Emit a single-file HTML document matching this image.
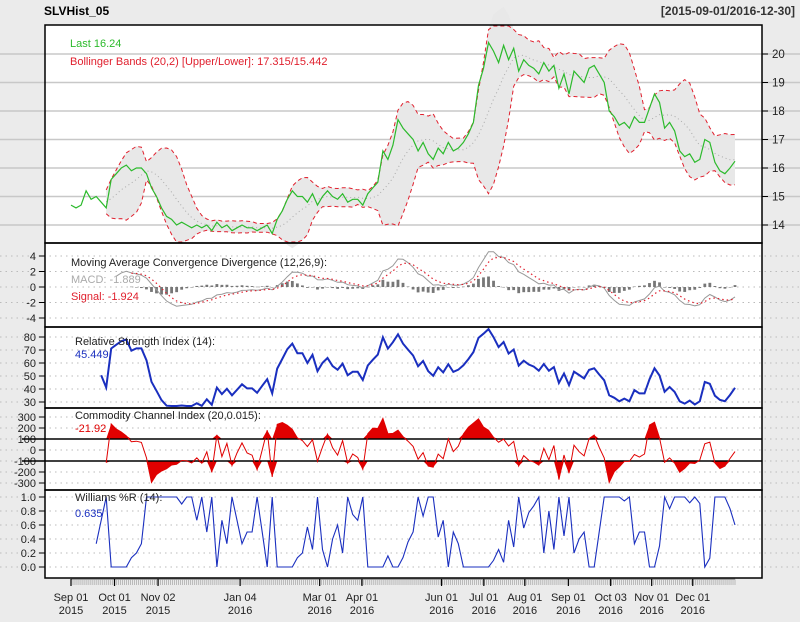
<!DOCTYPE html>
<html><head><meta charset="utf-8"><style>
html,body{margin:0;padding:0;background:#ebebeb;}
svg{display:block;font-family:"Liberation Sans",sans-serif;}
</style></head><body>
<svg id="chart" width="800" height="622" viewBox="0 0 800 622" xmlns="http://www.w3.org/2000/svg">
<rect x="0" y="0" width="800" height="622" fill="#ebebeb"/>
<text x="44" y="15" font-size="12" font-weight="bold">SLVHist_05</text>
<text x="795" y="15" font-size="12" font-weight="bold" fill="#333" text-anchor="end">[2015-09-01/2016-12-30]</text>
<g id="layer"></g>
</svg>
<script>
const closes = [14.7,14.6,14.7,15.2,14.9,15.0,14.8,14.6,15.6,15.8,16.0,16.1,15.9,16.0,16.0,15.8,15.3,15.0,14.6,14.3,14.2,14.0,14.1,14.0,13.9,14.0,13.9,14.0,13.8,14.1,13.9,14.0,13.8,13.9,14.0,13.9,13.9,13.8,13.9,14.0,13.7,14.2,14.5,14.9,15.2,15.0,15.0,14.8,15.1,14.7,15.0,15.2,15.0,14.9,15.1,14.8,14.9,14.9,14.7,15.1,15.3,15.5,16.6,16.3,16.8,17.7,17.4,17.2,17.0,16.6,16.9,16.5,16.3,16.7,16.5,16.9,16.6,16.7,16.9,17.2,17.6,18.9,19.5,20.4,20.1,19.7,20.3,19.8,20.2,19.4,19.8,19.6,19.5,19.3,19.7,19.4,19.6,18.8,19.3,18.6,19.4,19.2,19.0,19.5,19.6,19.3,19.0,18.0,17.8,17.5,17.6,17.4,17.8,17.6,17.6,18.1,18.6,18.3,17.4,17.6,17.3,16.6,16.4,16.5,16.2,16.3,17.0,16.9,16.2,15.9,15.8,16.0,16.24];
const dateLabels = ["Sep 01","Oct 01","Nov 02","Jan 04","Mar 01","Apr 01","Jun 01","Jul 01","Aug 01","Sep 01","Oct 03","Nov 01","Dec 01"];
const yearLabels = ["2015","2015","2015","2016","2016","2016","2016","2016","2016","2016","2016","2016","2016"];
const dateIndex = [0,17.5,35,68,100,117,149,166,182.5,200,217,233.5,250];
const priceTicks = [14,15,16,17,18,19,20];
const macdTicks = [4,2,0,-2,-4];
const rsiTicks = [80,70,60,50,40,30];
const cciTicks = [300,200,100,0,-100,-200,-300];
const wprTicks = [1.0,0.8,0.6,0.4,0.2,0.0];

const NS="http://www.w3.org/2000/svg";
const layer=document.getElementById('layer');
function mk(tag,attrs,parent){const e=document.createElementNS(NS,tag);for(const k in attrs)e.setAttribute(k,attrs[k]);(parent||layer).appendChild(e);return e;}
const n=closes.length;
const X0=71,X1=735,PL=45,PR=762;
const xs=i=>X0+i*(X1-X0)/(n-1);
const lin=(d0,d1,r0,r1)=>v=>r0+(v-d0)*(r1-r0)/(d1-d0);
const yP=lin(14,20,225,54), yM=lin(0,4,287,256), yR=lin(30,80,402,337), yC=lin(0,300,450,417), yW=lin(0,1,567,497);

function sma(a,p){return a.map((v,i)=>i<p-1?null:a.slice(i-p+1,i+1).reduce((s,x)=>s+x,0)/p);}
function sd(a,p){const m=sma(a,p);return a.map((v,i)=>{if(i<p-1)return null;const s=a.slice(i-p+1,i+1);return Math.sqrt(s.reduce((t,x)=>t+(x-m[i])**2,0)/(p-1));});}
function ema(a,p){const k=2/(p+1);const out=[];let e=null;a.forEach((v,i)=>{if(v==null){out.push(null);return;}e=e==null?v:e+k*(v-e);out.push(e);});return out;}
const BP=8;
const mid=sma(closes,BP), dev=sd(closes,BP);
const up=mid.map((m,i)=>m==null?null:m+2*dev[i]), lo=mid.map((m,i)=>m==null?null:m-2*dev[i]);
const ef=ema(closes,5), es=ema(closes,10);
const macd=closes.map((c,i)=>i<9?null:100*(ef[i]/es[i]-1));
const sigRaw=ema(macd,4);
const sig=sigRaw.map((v,i)=>i<12?null:v);
const rsi=[];{let ag=0,al=0;const p=9;for(let i=0;i<n;i++){if(i==0){rsi.push(null);continue;}const d=closes[i]-closes[i-1];const g=Math.max(d,0),l=Math.max(-d,0);
  ag=(ag*(p-1)+g)/p;al=(al*(p-1)+l)/p;rsi.push(i<6?null:100-100/(1+ag/(al||1e-9)));}}
const cm=sma(closes,BP);
const cci=closes.map((c,i)=>{if(i<BP-1)return null;const s=closes.slice(i-BP+1,i+1);const md=s.reduce((t,x)=>t+Math.abs(x-cm[i]),0)/BP;return md?1.35*(c-cm[i])/(0.015*md):0;});
const wpr=closes.map((c,i)=>{if(i<5)return null;const s=closes.slice(i-5,i+1);const h=Math.max(...s),l=Math.min(...s);return h==l?0.5:(h-c)/(h-l);});

function path(arr,yf,clampLo,clampHi){let d="",pen=false;arr.forEach((v,i)=>{if(v==null){pen=false;return;}let y=yf(v);if(clampLo!=null)y=Math.min(Math.max(y,clampLo),clampHi);d+=(pen?"L":"M")+xs(i).toFixed(1)+","+y.toFixed(1);pen=true;});return d;}

const panels=[[25,243],[243,327],[327,408],[408,490],[490,578]];
panels.forEach((p,k)=>{const r=mk('rect',{x:PL,y:p[0],width:PR-PL,height:p[1]-p[0],fill:'#fff'});

});

priceTicks.forEach(t=>{const y=yP(t);
const g=mk('line',{x1:0,x2:800,y1:y,y2:y,stroke:'#c8c8c8','stroke-width':1.5});


const tk=mk('line',{x1:PR,x2:PR+6,y1:y,y2:y,stroke:'#000'});


const tx=mk('text',{x:PR+10,y:y+4,'font-size':11.5,fill:'#222'});tx.textContent=t;

});

function dottedGrid(ticks,yf,fmt){ticks.forEach(t=>{const y=yf(t);
const g=mk('line',{x1:0,x2:800,y1:y,y2:y,stroke:'#bbb','stroke-dasharray':'1.5,4'});


const tk=mk('line',{x1:PL-6,x2:PL,y1:y,y2:y,stroke:'#000'});


const tx=mk('text',{x:PL-9,y:y+4,'font-size':11,fill:'#222','text-anchor':'end'});tx.textContent=fmt(t);

});}
dottedGrid(macdTicks,yM,t=>t);
dottedGrid(rsiTicks,yR,t=>t);
dottedGrid(cciTicks,yC,t=>t);
dottedGrid(wprTicks,yW,t=>t.toFixed(1));

{let d="";let first=true;up.forEach((v,i)=>{if(v==null)return;d+=(first?"M":"L")+xs(i).toFixed(1)+","+yP(v).toFixed(1);first=false;});
for(let i=n-1;i>=0;i--){if(lo[i]==null)continue;d+="L"+xs(i).toFixed(1)+","+yP(lo[i]).toFixed(1);}d+="Z";
const f=mk('path',{d:d,fill:'#e8e8e8',stroke:'none'});

}
const pm=mk('path',{d:path(mid,yP),fill:'none',stroke:'#aaa','stroke-dasharray':'1,3'});


const pu=mk('path',{d:path(up,yP,26,242),fill:'none',stroke:'#e0202e','stroke-dasharray':'4,3','stroke-width':1});


const pl=mk('path',{d:path(lo,yP,26,242),fill:'none',stroke:'#e0202e','stroke-dasharray':'4,3','stroke-width':1});


const pc=mk('path',{d:path(closes,yP),fill:'none',stroke:'#2cba2c','stroke-width':1.2});



macd.forEach((v,i)=>{if(v==null||sig[i]==null)return;const h=v-sig[i];const y0=yM(0),y1=yM(h);
const b=mk('rect',{x:xs(i)-1.4,y:Math.min(y0,y1),width:2.8,height:Math.max(0.5,Math.abs(y1-y0)),fill:'#777'});

});
const mm=mk('path',{d:path(macd,yM,244,326),fill:'none',stroke:'#999','stroke-width':1});


const ms=mk('path',{d:path(sig,yM,244,326),fill:'none',stroke:'#e0202e','stroke-dasharray':'1.5,3','stroke-width':1.2});



const rl=mk('path',{d:path(rsi,yR,329,406),fill:'none',stroke:'#1a2fbf','stroke-width':2});



{const y100=yC(100),ym100=yC(-100);
let dUp="",dDn="";
for(let i=1;i<n;i++){const a=cci[i-1],b=cci[i];if(a==null||b==null)continue;
const x0=xs(i-1),x1=xs(i);
const ya=Math.max(yC(a),409),yb=Math.max(yC(b),409);
if(a>100||b>100){dUp+=`M${x0},${y100}L${x0},${a>100?ya:y100}L${x1},${b>100?yb:y100}L${x1},${y100}Z`;}
const yc=Math.min(yC(a),489),yd=Math.min(yC(b),489);
if(a<-100||b<-100){dDn+=`M${x0},${ym100}L${x0},${a<-100?yc:ym100}L${x1},${b<-100?yd:ym100}L${x1},${ym100}Z`;}}
const fu=mk('path',{d:dUp,fill:'#e00000'});


const fd=mk('path',{d:dDn,fill:'#e00000'});


[100,-100].forEach(t=>{const l=mk('line',{x1:22,x2:PR,y1:yC(t),y2:yC(t),stroke:'#000','stroke-width':1.6});

});}
const cl=mk('path',{d:path(cci,yC,410,488),fill:'none',stroke:'#e00000','stroke-width':1});



const wl=mk('path',{d:path(wpr,yW),fill:'none',stroke:'#1a2fbf','stroke-width':1.1});



panels.forEach(p=>{const r=mk('rect',{x:PL,y:p[0],width:PR-PL,height:p[1]-p[0],fill:'none',stroke:'#000','stroke-width':1.5});

});

function lbl(x,y,t,c,name){const e=mk('text',{x:x,y:y,'font-size':11,fill:c});e.textContent=t;

}
lbl(70,47,'Last 16.24','#2cba2c','legend-last');
lbl(70,65,'Bollinger Bands (20,2) [Upper/Lower]: 17.315/15.442','#e0202e','legend-bollinger');
lbl(71,266,'Moving Average Convergence Divergence (12,26,9):','#222','macd-title');
lbl(71,283,'MACD: -1.889','#aaa','macd-value');
lbl(71,300,'Signal: -1.924','#e0202e','macd-signal-value');
lbl(75,345,'Relative Strength Index (14):','#222','rsi-title');
lbl(75,358,'45.449','#1a2fbf','rsi-value');
lbl(75,419,'Commodity Channel Index (20,0.015):','#222','cci-title');
lbl(75,432,'-21.92','#e00000','cci-value');
lbl(75,501,'Williams %R (14):','#222','williams-title');
lbl(75,517,'0.635','#1a2fbf','williams-value');

{const base=mk('line',{x1:X0,x2:X1,y1:579,y2:579,stroke:'#555'});


const total=335;for(let k=0;k<total;k++){const x=X0+k*(X1-X0)/(total-1);
const t=mk('line',{x1:x,x2:x,y1:579,y2:585,stroke:'#999','stroke-width':0.6});

}
dateLabels.forEach((d,i)=>{
const xx=X0+dateIndex[i]*(X1-X0)/267;
const tk=mk('line',{x1:xx,x2:xx,y1:579,y2:586,stroke:'#000','stroke-width':1.2});


const a=mk('text',{x:xx,y:601,'font-size':11,fill:'#222','text-anchor':'middle'});a.textContent=d;


const b=mk('text',{x:xx,y:614,'font-size':11,fill:'#222','text-anchor':'middle'});b.textContent=yearLabels[i];

});}
</script>
</body></html>
